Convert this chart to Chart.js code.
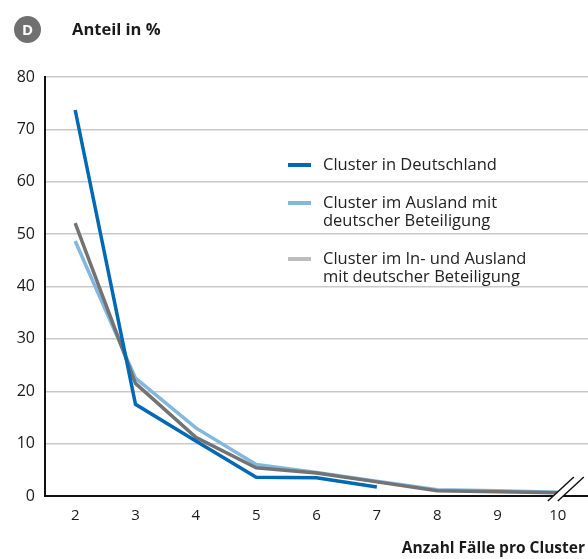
<!DOCTYPE html>
<html lang="de">
<head>
    <meta charset="UTF-8">
    <title>Anteil in %</title>
    <script src="https://cdn.jsdelivr.net/npm/chart.js"></script>
    <style>
        body { margin: 0; background: #fff; font-family: "Open Sans", sans-serif; color: #1a1a1a; }
        .wrap { position: relative; width: 588px; height: 559px; }
        .badge { position: absolute; left: 14px; top: 16px; width: 27px; height: 27px; border-radius: 50%;
                 background: #707070; color: #fff; font-weight: bold; font-size: 15px; text-align: center; line-height: 27px; }
        .title { position: absolute; left: 72px; top: 17px; font-weight: bold; font-size: 16.5px; }
        .xtitle { position: absolute; right: 3px; top: 536px; font-weight: bold; font-size: 15.5px; }
        .legend { position: absolute; left: 288px; top: 155px; font-size: 16.5px; line-height: 18px; color: #222; }
        .legend .item { position: relative; padding-left: 35px; margin-bottom: 20px; white-space: nowrap; }
        .legend .sw { position: absolute; left: 0; top: 8px; width: 23px; height: 4px; }
        canvas { position: absolute; left: 0; top: 0; }
    </style>
</head>
<body>
    <div class="wrap">
        <canvas id="clusterChart" width="588" height="559"></canvas>
        <div class="badge">D</div>
        <div class="title">Anteil in %</div>
        <div class="legend" id="legend"></div>
        <div class="xtitle">Anzahl Fälle pro Cluster</div>
    </div>

    <script>
        // Daten
        const categories = ['2', '3', '4', '5', '6', '7', '8', '9', '10'];
        const seriesNames = ['Cluster in Deutschland', 'Cluster im Ausland mit<br>deutscher Beteiligung', 'Cluster im In- und Ausland<br>mit deutscher Beteiligung'];
        const inland = [73.7, 17.5, 10.5, 3.6, 3.5, 1.7, null, null, null];
        const ausland = [48.7, 22.5, 13.0, 6.0, 4.5, 2.8, 1.2, 1.0, 0.7];
        const beide = [52.1, 21.5, 11.2, 5.4, 4.4, 2.7, 1.0, 0.8, 0.6];
        const yTicks = [0, 10, 20, 30, 40, 50, 60, 70, 80];

        const lineColors = ['#0069b4', '#82b8de', '#737373'];
        const legendColors = ['#0069b4', '#82b8de', '#bdbdbd'];

        // HTML-Legende
        const legend = document.getElementById('legend');
        seriesNames.forEach((name, i) => {
            const item = document.createElement('div');
            item.className = 'item';
            item.innerHTML = `<span class="sw" style="background:${legendColors[i]}"></span>${name}`;
            legend.appendChild(item);
        });

        // Bruchzeichen an der x-Achse
        const breakMarks = {
            id: 'breakMarks',
            afterDraw(chart) {
                const ctx = chart.ctx;
                const y = chart.chartArea.bottom - 7;
                const x0 = chart.scales.x.getPixelForValue(8) + 3;
                ctx.save();
                ctx.fillStyle = '#fff';
                ctx.beginPath();
                ctx.moveTo(x0 - 13, y + 12);
                ctx.lineTo(x0 + 13, y - 12);
                ctx.lineTo(x0 + 23, y - 12);
                ctx.lineTo(x0 - 3, y + 12);
                ctx.closePath();
                ctx.fill();
                ctx.strokeStyle = '#111';
                ctx.lineWidth = 1.5;
                [0, 10].forEach(dx => {
                    ctx.beginPath();
                    ctx.moveTo(x0 - 13 + dx, y + 12);
                    ctx.lineTo(x0 + 13 + dx, y - 12);
                    ctx.stroke();
                });
                ctx.restore();
            }
        };

        const ds = (data, color) => ({
            data: data,
            borderColor: color,
            backgroundColor: color,
            borderWidth: 3.5,
            pointRadius: 0,
            tension: 0,
            spanGaps: false
        });

        new Chart(document.getElementById('clusterChart'), {
            type: 'line',
            data: {
                labels: categories,
                datasets: [ds(inland, lineColors[0]), ds(beide, lineColors[2]), ds(ausland, lineColors[1])]
            },
            plugins: [breakMarks],
            options: {
                responsive: false,
                animation: false,
                layout: { padding: { top: 77, left: 0, right: 0, bottom: 0 } },
                plugins: { legend: { display: false }, tooltip: { enabled: false } },
                scales: {
                    x: {
                        offset: true,
                        grid: { display: false, drawTicks: false },
                        border: { color: '#111', width: 2 },
                        ticks: { padding: 11, color: '#1a1a1a', font: { family: '"Open Sans", sans-serif', size: 15 } },
                        afterFit: s => { s.height = 63; }
                    },
                    y: {
                        min: 0,
                        max: 80,
                        afterBuildTicks: s => { s.ticks = yTicks.map(v => ({ value: v })); },
                        grid: {
                            drawTicks: false,
                            color: c => c.tick && c.tick.value === 0 ? 'rgba(0,0,0,0)' : '#c9c9c9',
                            lineWidth: 1.5
                        },
                        border: { color: '#111', width: 2 },
                        ticks: { padding: 10, color: '#1a1a1a', font: { family: '"Open Sans", sans-serif', size: 16 } },
                        afterFit: s => { s.width = 45; }
                    }
                }
            }
        });
    </script>
</body>
</html>
